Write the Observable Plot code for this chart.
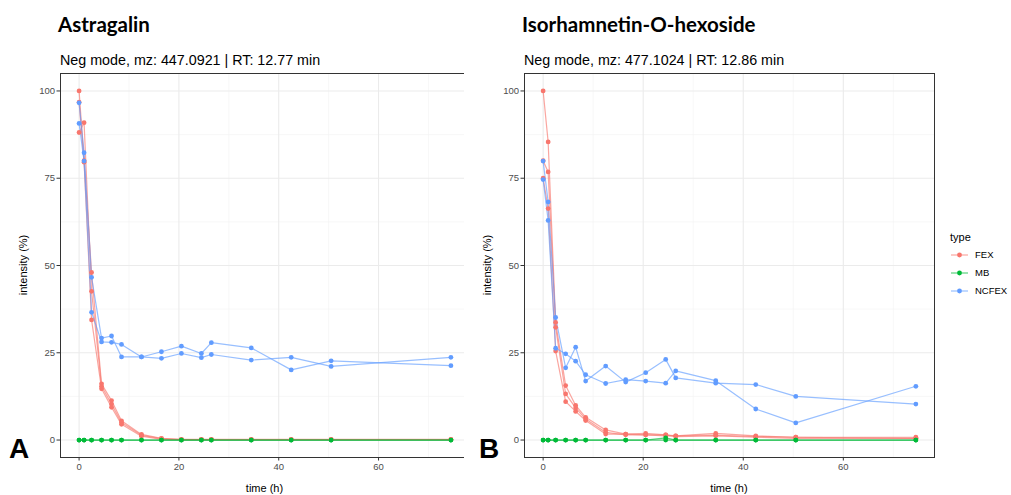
<!DOCTYPE html>
<html><head><meta charset="utf-8">
<script src="https://cdn.jsdelivr.net/npm/d3@7"></script>
<script src="https://cdn.jsdelivr.net/npm/@observablehq/plot@0.6"></script>
<style>
body{margin:0;background:#fff;}
#wrap{position:relative;width:1011px;height:495px;overflow:hidden;background:#fff;font-family:"Liberation Sans",Arial,sans-serif;}
#wrap > svg{position:absolute;}
</style></head><body><div id="wrap"></div>
<script>
// ---- data ----
const times = [0, 1, 2.5, 4.5, 6.5, 8.5, 12.5, 16.5, 20.5, 24.5, 26.5, 34.5, 42.5, 50.5, 74.5];
const types = ["FEX", "MB", "NCFEX"];
const typeColors = ["#F8766D", "#00BA38", "#619CFF"];
const xTicks = [0, 20, 40, 60];
const xMinor = [10, 30, 50, 70];
const yTicks = [0, 25, 50, 75, 100];
const yMinor = [12.5, 37.5, 62.5, 87.5];

// Panel A: Astragalin
const astTitle = "Astragalin";
const astSubtitle = "Neg mode, mz: 447.0921 | RT: 12.77 min";
const astFEX1 = [100, 80.0, 48.0, 16.1, 11.3, 5.5, 1.6, 0.5, 0.2, 0.2, 0.2, 0.2, 0.2, 0.2, 0.2];
const astFEX2 = [88.1, 90.9, 42.6, 15.4, 10.3, 5.0, 1.35, 0.4, 0.1, 0.1, 0.1, 0.1, 0.1, 0.1, 0.1];
const astFEX3 = [96.8, 79.6, 34.4, 14.7, 9.4, 4.5, 1.1, 0.2, 0.1, 0.1, 0.1, 0.1, 0.1, 0.1, 0.1];
const astMB1 = [0, 0, 0, 0, 0, 0, 0, 0, 0, 0, 0, 0, 0, 0, 0];
const astMB2 = [0, 0, 0, 0, 0, 0, 0, 0, 0, 0, 0, 0, 0, 0, 0];
const astNCFEX1 = [96.6, 82.3, 46.6, 29.2, 29.8, 23.8, 23.8, 25.3, 26.9, 24.8, 27.9, 26.4, 20.1, 22.7, 21.3];
const astNCFEX2 = [90.7, 79.9, 36.6, 28.1, 28.0, 27.4, 23.8, 23.4, 24.8, 23.6, 24.5, 22.9, 23.7, 21.1, 23.7];

// Panel B: Isorhamnetin-O-hexoside
const isoTitle = "Isorhamnetin-O-hexoside";
const isoSubtitle = "Neg mode, mz: 477.1024 | RT: 12.86 min";
const isoFEX1 = [100, 85.4, 33.7, 15.6, 9.9, 6.5, 2.9, 1.7, 1.9, 1.5, 1.2, 1.9, 1.2, 0.8, 0.8];
const isoFEX2 = [80.0, 76.8, 32.3, 13.2, 9.2, 6.0, 2.2, 1.5, 1.5, 1.2, 1.2, 1.4, 1.0, 0.8, 0.5];
const isoFEX3 = [75.0, 66.3, 25.5, 11.0, 8.2, 5.6, 1.7, 1.7, 1.5, 1.5, 1.0, 1.2, 0.8, 0.5, 0.5];
const isoMB1 = [0, 0, 0, 0, 0, 0, 0, 0, 0, 0, 0, 0, 0, 0, 0];
const isoMB2 = [0, 0, 0, 0, 0, 0, 0, 0, 0, 0.6, 0, 0, 0, 0, 0];
const isoNCFEX1 = [79.9, 68.2, 35.1, 20.7, 26.6, 16.9, 21.2, 16.6, 19.3, 23.1, 17.8, 16.3, 15.9, 12.5, 10.3];
const isoNCFEX2 = [74.6, 62.9, 26.3, 24.7, 22.6, 18.7, 16.2, 17.3, 16.9, 16.3, 19.8, 17.0, 8.9, 4.9, 15.4];

// ---- build ----
const xDomain = [-3.725, 78.225];
const yDomain = [-5, 105];

function tidy(series) {
  const rows = [];
  series.forEach(([type, rep, vals]) => {
    vals.forEach((v, i) => rows.push({time: times[i], value: v, type, rep: type + rep}));
  });
  return rows;
}

function panel(rows, left, marginRight) {
  const svg = Plot.plot({
    width: 480, height: 435,
    marginLeft: 60, marginRight, marginTop: 13, marginBottom: 38,
    x: {domain: xDomain},
    y: {domain: yDomain},
    color: {domain: types, range: typeColors},
    style: {fontFamily: "'Liberation Sans', Arial, sans-serif", fontSize: "9.5px", color: "#4d4d4d", background: "white"},
    marks: [
      Plot.gridX(xMinor, {stroke: "#f3f3f3", strokeOpacity: 1, strokeWidth: 0.6}),
      Plot.gridY(yMinor, {stroke: "#f3f3f3", strokeOpacity: 1, strokeWidth: 0.6}),
      Plot.gridX(xTicks, {stroke: "#ebebeb", strokeOpacity: 1, strokeWidth: 1.1}),
      Plot.gridY(yTicks, {stroke: "#ebebeb", strokeOpacity: 1, strokeWidth: 1.1}),
      Plot.line(rows, {x: "time", y: "value", z: "rep", stroke: "type", strokeWidth: 1.2, strokeOpacity: 0.65}),
      Plot.dot(rows, {x: "time", y: "value", fill: "type", r: 2.4}),
      Plot.frame({stroke: "#333333", strokeWidth: 1}),
      Plot.axisX(xTicks, {tickSize: 3.5, tickPadding: 2, label: null, stroke: "#333333"}),
      Plot.axisY(yTicks, {tickSize: 3.5, tickPadding: 2, label: null, stroke: "#333333"})
    ]
  });
  svg.style.left = left + "px";
  svg.style.top = "60px";
  return svg;
}

const wrap = document.getElementById("wrap");
const rowsA = tidy([["FEX", 1, astFEX1], ["FEX", 2, astFEX2], ["FEX", 3, astFEX3],
                    ["MB", 1, astMB1], ["MB", 2, astMB2],
                    ["NCFEX", 1, astNCFEX1], ["NCFEX", 2, astNCFEX2]]);
const rowsB = tidy([["FEX", 1, isoFEX1], ["FEX", 2, isoFEX2], ["FEX", 3, isoFEX3],
                    ["MB", 1, isoMB1], ["MB", 2, isoMB2],
                    ["NCFEX", 1, isoNCFEX1], ["NCFEX", 2, isoNCFEX2]]);
wrap.appendChild(panel(rowsA, 0, 11));
wrap.appendChild(panel(rowsB, 464, 10));

// ---- text overlay: titles, axis titles, legend, panel letters ----
const ov = d3.create("svg").attr("width", 1011).attr("height", 495)
  .style("left", "0px").style("top", "0px").style("pointer-events", "none")
  .attr("font-family", "'Liberation Sans', Arial, sans-serif");

function panelText(x0, title, subtitle, letter, letterX, cx) {
  ov.append("text").attr("x", x0 - 2).attr("y", 32).attr("font-family", "Lato, 'Open Sans', sans-serif")
    .attr("font-weight", 700).attr("font-size", 20.5).attr("fill", "#000").text(title);
  ov.append("text").attr("x", x0).attr("y", 65).attr("font-size", 14.3).attr("fill", "#000").text(subtitle);
  ov.append("text").attr("transform", `translate(${x0 - 37},265) rotate(-90)`).attr("text-anchor", "middle")
    .attr("dy", "0.35em").attr("font-size", 11).attr("fill", "#000").text("intensity (%)");
  ov.append("text").attr("x", cx).attr("y", 492).attr("text-anchor", "middle")
    .attr("font-size", 11).attr("fill", "#000").text("time (h)");
  ov.append("text").attr("x", letterX).attr("y", 458).attr("font-weight", 700)
    .attr("font-size", 28).attr("fill", "#000").text(letter);
}
panelText(60, astTitle, astSubtitle, "A", 9, 264.5);
panelText(524, isoTitle, isoSubtitle, "B", 479, 729);

// legend
ov.append("text").attr("x", 950).attr("y", 241).attr("font-size", 11).attr("fill", "#000").text("type");
const legY = [255, 273, 291];
types.forEach((t, i) => {
  const g = ov.append("g");
  g.append("line").attr("x1", 951).attr("x2", 968).attr("y1", legY[i]).attr("y2", legY[i])
    .attr("stroke", typeColors[i]).attr("stroke-width", 1.2).attr("stroke-opacity", 0.65);
  g.append("circle").attr("cx", 959.5).attr("cy", legY[i]).attr("r", 2.4).attr("fill", typeColors[i]);
  g.append("text").attr("x", 975).attr("y", legY[i]).attr("dy", "0.35em").attr("font-size", 9.5)
    .attr("fill", "#000").text(t);
});
wrap.appendChild(ov.node());
</script>
</body></html>
